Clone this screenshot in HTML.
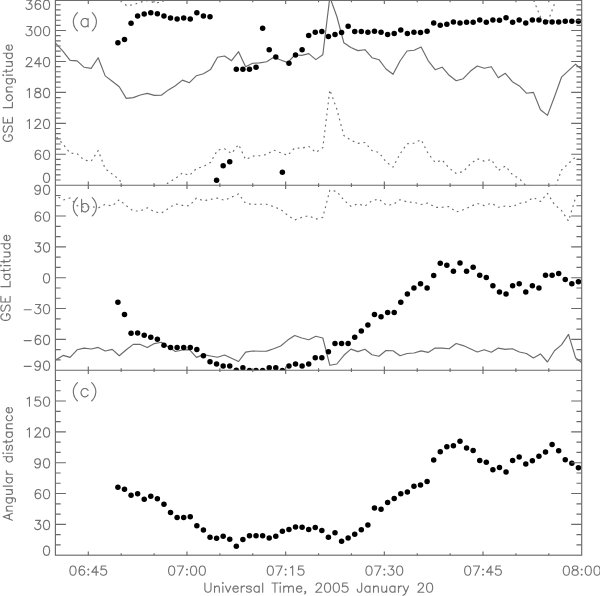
<!DOCTYPE html><html><head><meta charset="utf-8"><style>html,body{margin:0;padding:0;background:#fff;width:600px;height:596px;overflow:hidden}svg{display:block}</style></head><body>
<svg width="600" height="596" viewBox="0 0 600 596">
<rect width="600" height="596" fill="#fff"/>
<defs>
<clipPath id="ca"><rect x="55.40" y="-0.40" width="526.30" height="185.60"/></clipPath>
<clipPath id="cb"><rect x="55.40" y="185.20" width="526.30" height="185.00"/></clipPath>
<clipPath id="cc"><rect x="55.40" y="370.20" width="526.30" height="185.00"/></clipPath>
</defs>
<g clip-path="url(#ca)" fill="none" stroke="#6a6a6a" stroke-width="1.15" stroke-linejoin="round">
<path d="M49.04,36.10 L56.06,43.70 L63.08,51.30 L70.10,60.40 L77.12,60.90 L84.14,67.30 L91.16,68.40 L98.18,57.80 L105.20,75.90 L112.22,81.30 L119.24,86.70 L126.26,98.40 L133.28,97.60 L140.30,95.00 L147.32,93.40 L154.34,95.40 L161.36,95.30 L168.38,89.90 L175.40,85.70 L182.42,80.10 L189.44,82.70 L196.46,75.70 L203.48,73.70 L210.50,69.60 L217.52,57.30 L224.54,56.00 L231.56,60.70 L238.58,51.70 L245.60,66.70 L252.62,63.30 L259.64,62.90 L266.66,61.70 L273.68,57.30 L280.70,60.00 L287.72,62.60 L294.74,55.00 L301.76,55.40 L308.78,53.60 L315.80,59.60 L322.82,54.80 L329.84,-2.90 L336.86,16.50 L343.88,42.80 L350.90,47.50 L357.92,50.60 L364.94,49.70 L371.96,57.70 L378.98,59.70 L386.00,69.00 L393.02,74.30 L400.04,61.00 L407.06,51.00 L414.08,50.30 L421.10,46.90 L428.12,60.60 L435.14,69.70 L442.16,67.20 L449.18,75.30 L456.20,80.70 L463.22,78.70 L470.24,71.30 L477.26,66.00 L484.28,68.30 L491.30,66.70 L498.32,77.70 L505.34,73.30 L512.36,81.70 L519.38,85.90 L526.40,93.20 L533.42,92.40 L540.44,109.70 L547.46,115.40 L554.48,96.70 L561.50,77.20 L568.52,70.70 L575.54,64.20 L582.56,69.90"/>
<path d="M49.04,128.90 L56.06,136.50 L63.08,144.10 L70.10,153.20 L77.12,153.70 L84.14,160.10 L91.16,161.20 L98.18,150.60 L105.20,168.70 L112.22,174.10 L119.24,179.50 L126.26,191.20 L133.28,190.40 L140.30,187.80 L147.32,186.20 L154.34,188.20 L161.36,188.10 L168.38,182.70 L175.40,178.50 L182.42,172.90 L189.44,175.50 L196.46,168.50 L203.48,166.50 L210.50,162.40 L217.52,150.10 L224.54,148.80 L231.56,153.50 L238.58,144.50 L245.60,159.50 L252.62,156.10 L259.64,155.70 L266.66,154.50 L273.68,150.10 L280.70,152.80 L287.72,155.40 L294.74,147.80 L301.76,148.20 L308.78,146.40 L315.80,152.40 L322.82,147.60 L329.84,89.90 L336.86,109.30 L343.88,135.60 L350.90,140.30 L357.92,143.40 L364.94,142.50 L371.96,150.50 L378.98,152.50 L386.00,161.80 L393.02,167.10 L400.04,153.80 L407.06,143.80 L414.08,143.10 L421.10,139.70 L428.12,153.40 L435.14,162.50 L442.16,160.00 L449.18,168.10 L456.20,173.50 L463.22,171.50 L470.24,164.10 L477.26,158.80 L484.28,161.10 L491.30,159.50 L498.32,170.50 L505.34,166.10 L512.36,174.50 L519.38,178.70 L526.40,186.00 L533.42,185.20 L540.44,202.50 L547.46,208.20 L554.48,189.50 L561.50,170.00 L568.52,163.50 L575.54,157.00 L582.56,162.70" stroke-dasharray="1.8 3.8"/>
<path d="M49.04,-56.70 L56.06,-49.10 L63.08,-41.50 L70.10,-32.40 L77.12,-31.90 L84.14,-25.50 L91.16,-24.40 L98.18,-35.00 L105.20,-16.90 L112.22,-11.50 L119.24,-6.10 L126.26,5.60 L133.28,4.80 L140.30,2.20 L147.32,0.60 L154.34,2.60 L161.36,2.50 L168.38,-2.90 L175.40,-7.10 L182.42,-12.70 L189.44,-10.10 L196.46,-17.10 L203.48,-19.10 L210.50,-23.20 L217.52,-35.50 L224.54,-36.80 L231.56,-32.10 L238.58,-41.10 L245.60,-26.10 L252.62,-29.50 L259.64,-29.90 L266.66,-31.10 L273.68,-35.50 L280.70,-32.80 L287.72,-30.20 L294.74,-37.80 L301.76,-37.40 L308.78,-39.20 L315.80,-33.20 L322.82,-38.00 L329.84,-95.70 L336.86,-76.30 L343.88,-50.00 L350.90,-45.30 L357.92,-42.20 L364.94,-43.10 L371.96,-35.10 L378.98,-33.10 L386.00,-23.80 L393.02,-18.50 L400.04,-31.80 L407.06,-41.80 L414.08,-42.50 L421.10,-45.90 L428.12,-32.20 L435.14,-23.10 L442.16,-25.60 L449.18,-17.50 L456.20,-12.10 L463.22,-14.10 L470.24,-21.50 L477.26,-26.80 L484.28,-24.50 L491.30,-26.10 L498.32,-15.10 L505.34,-19.50 L512.36,-11.10 L519.38,-6.90 L526.40,0.40 L533.42,-0.40 L540.44,16.90 L547.46,22.60 L554.48,3.90 L561.50,-15.60 L568.52,-22.10 L575.54,-28.60 L582.56,-22.90" stroke-dasharray="1.8 3.8"/>
</g>
<g clip-path="url(#cb)" fill="none" stroke="#6a6a6a" stroke-width="1.15" stroke-linejoin="round">
<path d="M49.04,364.20 L56.06,359.80 L63.08,355.40 L70.10,357.40 L77.12,349.80 L84.14,348.10 L91.16,349.00 L98.18,347.40 L105.20,351.00 L112.22,349.40 L119.24,355.70 L126.26,349.70 L133.28,344.40 L140.30,344.40 L147.32,347.60 L154.34,343.60 L161.36,342.30 L168.38,347.00 L175.40,351.50 L182.42,350.00 L189.44,349.60 L196.46,357.40 L203.48,354.60 L210.50,356.00 L217.52,357.30 L224.54,355.00 L231.56,358.30 L238.58,361.50 L245.60,352.10 L252.62,351.00 L259.64,351.20 L266.66,351.10 L273.68,348.70 L280.70,346.00 L287.72,340.10 L294.74,335.50 L301.76,338.00 L308.78,339.70 L315.80,336.30 L322.82,338.00 L329.84,365.30 L336.86,364.00 L343.88,355.30 L350.90,349.10 L357.92,351.60 L364.94,349.30 L371.96,354.70 L378.98,356.30 L386.00,350.50 L393.02,350.70 L400.04,355.70 L407.06,353.50 L414.08,353.00 L421.10,350.90 L428.12,352.40 L435.14,348.10 L442.16,348.10 L449.18,348.80 L456.20,343.50 L463.22,345.60 L470.24,348.80 L477.26,352.00 L484.28,349.80 L491.30,352.20 L498.32,348.10 L505.34,349.40 L512.36,348.70 L519.38,352.00 L526.40,353.50 L533.42,358.00 L540.44,353.90 L547.46,362.00 L554.48,350.80 L561.50,344.90 L568.52,334.40 L575.54,357.70 L582.56,363.50"/>
<path d="M49.04,191.20 L56.06,195.60 L63.08,200.00 L70.10,198.00 L77.12,205.60 L84.14,207.30 L91.16,206.40 L98.18,208.00 L105.20,204.40 L112.22,206.00 L119.24,199.70 L126.26,205.70 L133.28,211.00 L140.30,211.00 L147.32,207.80 L154.34,211.80 L161.36,213.10 L168.38,208.40 L175.40,203.90 L182.42,205.40 L189.44,205.80 L196.46,198.00 L203.48,200.80 L210.50,199.40 L217.52,198.10 L224.54,200.40 L231.56,197.10 L238.58,193.90 L245.60,203.30 L252.62,204.40 L259.64,204.20 L266.66,204.30 L273.68,206.70 L280.70,209.40 L287.72,215.30 L294.74,219.90 L301.76,217.40 L308.78,215.70 L315.80,219.10 L322.82,217.40 L329.84,190.10 L336.86,191.40 L343.88,200.10 L350.90,206.30 L357.92,203.80 L364.94,206.10 L371.96,200.70 L378.98,199.10 L386.00,204.90 L393.02,204.70 L400.04,199.70 L407.06,201.90 L414.08,202.40 L421.10,204.50 L428.12,203.00 L435.14,207.30 L442.16,207.30 L449.18,206.60 L456.20,211.90 L463.22,209.80 L470.24,206.60 L477.26,203.40 L484.28,205.60 L491.30,203.20 L498.32,207.30 L505.34,206.00 L512.36,206.70 L519.38,203.40 L526.40,201.90 L533.42,197.40 L540.44,201.50 L547.46,193.40 L554.48,204.60 L561.50,210.50 L568.52,221.00 L575.54,197.70 L582.56,191.90" stroke-dasharray="1.8 3.8"/>
</g>
<g clip-path="url(#ca)" fill="#000">
<circle cx="117.90" cy="42.80" r="2.75"/>
<circle cx="124.48" cy="39.60" r="2.75"/>
<circle cx="131.06" cy="23.20" r="2.75"/>
<circle cx="137.63" cy="15.90" r="2.75"/>
<circle cx="144.21" cy="13.90" r="2.75"/>
<circle cx="150.79" cy="12.80" r="2.75"/>
<circle cx="157.37" cy="13.80" r="2.75"/>
<circle cx="163.95" cy="15.90" r="2.75"/>
<circle cx="170.53" cy="18.00" r="2.75"/>
<circle cx="177.11" cy="19.10" r="2.75"/>
<circle cx="183.69" cy="18.00" r="2.75"/>
<circle cx="190.26" cy="19.10" r="2.75"/>
<circle cx="196.84" cy="12.80" r="2.75"/>
<circle cx="203.42" cy="15.90" r="2.75"/>
<circle cx="210.00" cy="16.80" r="2.75"/>
<circle cx="216.58" cy="180.30" r="2.75"/>
<circle cx="223.16" cy="165.80" r="2.75"/>
<circle cx="229.74" cy="161.70" r="2.75"/>
<circle cx="236.32" cy="69.30" r="2.75"/>
<circle cx="242.89" cy="69.30" r="2.75"/>
<circle cx="249.47" cy="69.30" r="2.75"/>
<circle cx="256.05" cy="67.20" r="2.75"/>
<circle cx="262.63" cy="28.20" r="2.75"/>
<circle cx="269.21" cy="49.80" r="2.75"/>
<circle cx="275.79" cy="57.00" r="2.75"/>
<circle cx="282.37" cy="172.20" r="2.75"/>
<circle cx="288.95" cy="63.20" r="2.75"/>
<circle cx="295.52" cy="55.00" r="2.75"/>
<circle cx="302.10" cy="49.80" r="2.75"/>
<circle cx="308.68" cy="35.50" r="2.75"/>
<circle cx="315.26" cy="32.30" r="2.75"/>
<circle cx="321.84" cy="31.40" r="2.75"/>
<circle cx="328.42" cy="36.50" r="2.75"/>
<circle cx="335.00" cy="34.50" r="2.75"/>
<circle cx="341.58" cy="32.40" r="2.75"/>
<circle cx="348.15" cy="26.20" r="2.75"/>
<circle cx="354.73" cy="31.50" r="2.75"/>
<circle cx="361.31" cy="31.40" r="2.75"/>
<circle cx="367.89" cy="32.30" r="2.75"/>
<circle cx="374.47" cy="31.30" r="2.75"/>
<circle cx="381.05" cy="32.30" r="2.75"/>
<circle cx="387.63" cy="34.60" r="2.75"/>
<circle cx="394.21" cy="33.40" r="2.75"/>
<circle cx="400.78" cy="30.10" r="2.75"/>
<circle cx="407.36" cy="33.40" r="2.75"/>
<circle cx="413.94" cy="32.30" r="2.75"/>
<circle cx="420.52" cy="32.40" r="2.75"/>
<circle cx="427.10" cy="31.30" r="2.75"/>
<circle cx="433.68" cy="23.10" r="2.75"/>
<circle cx="440.26" cy="25.30" r="2.75"/>
<circle cx="446.84" cy="24.30" r="2.75"/>
<circle cx="453.41" cy="22.00" r="2.75"/>
<circle cx="459.99" cy="23.10" r="2.75"/>
<circle cx="466.57" cy="22.30" r="2.75"/>
<circle cx="473.15" cy="22.30" r="2.75"/>
<circle cx="479.73" cy="20.00" r="2.75"/>
<circle cx="486.31" cy="22.30" r="2.75"/>
<circle cx="492.89" cy="20.00" r="2.75"/>
<circle cx="499.47" cy="20.30" r="2.75"/>
<circle cx="506.04" cy="17.80" r="2.75"/>
<circle cx="512.62" cy="22.20" r="2.75"/>
<circle cx="519.20" cy="20.00" r="2.75"/>
<circle cx="525.78" cy="23.00" r="2.75"/>
<circle cx="532.36" cy="20.00" r="2.75"/>
<circle cx="538.94" cy="20.00" r="2.75"/>
<circle cx="545.52" cy="22.10" r="2.75"/>
<circle cx="552.10" cy="22.10" r="2.75"/>
<circle cx="558.67" cy="22.10" r="2.75"/>
<circle cx="565.25" cy="21.20" r="2.75"/>
<circle cx="571.83" cy="21.20" r="2.75"/>
<circle cx="578.41" cy="21.20" r="2.75"/>
</g>
<g clip-path="url(#cb)" fill="#000">
<circle cx="117.90" cy="302.30" r="2.75"/>
<circle cx="124.48" cy="314.60" r="2.75"/>
<circle cx="131.06" cy="333.20" r="2.75"/>
<circle cx="137.63" cy="333.00" r="2.75"/>
<circle cx="144.21" cy="335.20" r="2.75"/>
<circle cx="150.79" cy="337.20" r="2.75"/>
<circle cx="157.37" cy="339.30" r="2.75"/>
<circle cx="163.95" cy="345.30" r="2.75"/>
<circle cx="170.53" cy="347.50" r="2.75"/>
<circle cx="177.11" cy="347.50" r="2.75"/>
<circle cx="183.69" cy="347.50" r="2.75"/>
<circle cx="190.26" cy="347.50" r="2.75"/>
<circle cx="196.84" cy="349.40" r="2.75"/>
<circle cx="203.42" cy="355.70" r="2.75"/>
<circle cx="210.00" cy="361.80" r="2.75"/>
<circle cx="216.58" cy="363.90" r="2.75"/>
<circle cx="223.16" cy="366.00" r="2.75"/>
<circle cx="229.74" cy="366.00" r="2.75"/>
<circle cx="236.32" cy="370.30" r="2.75"/>
<circle cx="242.89" cy="367.70" r="2.75"/>
<circle cx="249.47" cy="370.50" r="2.75"/>
<circle cx="256.05" cy="370.50" r="2.75"/>
<circle cx="262.63" cy="370.50" r="2.75"/>
<circle cx="269.21" cy="367.70" r="2.75"/>
<circle cx="275.79" cy="367.70" r="2.75"/>
<circle cx="282.37" cy="370.50" r="2.75"/>
<circle cx="288.95" cy="366.00" r="2.75"/>
<circle cx="295.52" cy="364.00" r="2.75"/>
<circle cx="302.10" cy="366.00" r="2.75"/>
<circle cx="308.68" cy="364.00" r="2.75"/>
<circle cx="315.26" cy="357.70" r="2.75"/>
<circle cx="321.84" cy="357.70" r="2.75"/>
<circle cx="328.42" cy="351.70" r="2.75"/>
<circle cx="335.00" cy="343.50" r="2.75"/>
<circle cx="341.58" cy="343.50" r="2.75"/>
<circle cx="348.15" cy="343.50" r="2.75"/>
<circle cx="354.73" cy="337.30" r="2.75"/>
<circle cx="361.31" cy="331.10" r="2.75"/>
<circle cx="367.89" cy="325.00" r="2.75"/>
<circle cx="374.47" cy="314.40" r="2.75"/>
<circle cx="381.05" cy="316.70" r="2.75"/>
<circle cx="387.63" cy="312.40" r="2.75"/>
<circle cx="394.21" cy="312.40" r="2.75"/>
<circle cx="400.78" cy="302.30" r="2.75"/>
<circle cx="407.36" cy="294.00" r="2.75"/>
<circle cx="413.94" cy="288.00" r="2.75"/>
<circle cx="420.52" cy="283.80" r="2.75"/>
<circle cx="427.10" cy="288.00" r="2.75"/>
<circle cx="433.68" cy="275.50" r="2.75"/>
<circle cx="440.26" cy="263.20" r="2.75"/>
<circle cx="446.84" cy="265.30" r="2.75"/>
<circle cx="453.41" cy="271.30" r="2.75"/>
<circle cx="459.99" cy="263.10" r="2.75"/>
<circle cx="466.57" cy="271.30" r="2.75"/>
<circle cx="473.15" cy="267.30" r="2.75"/>
<circle cx="479.73" cy="275.30" r="2.75"/>
<circle cx="486.31" cy="277.60" r="2.75"/>
<circle cx="492.89" cy="285.70" r="2.75"/>
<circle cx="499.47" cy="292.00" r="2.75"/>
<circle cx="506.04" cy="294.00" r="2.75"/>
<circle cx="512.62" cy="285.70" r="2.75"/>
<circle cx="519.20" cy="283.70" r="2.75"/>
<circle cx="525.78" cy="292.00" r="2.75"/>
<circle cx="532.36" cy="285.70" r="2.75"/>
<circle cx="538.94" cy="288.00" r="2.75"/>
<circle cx="545.52" cy="275.30" r="2.75"/>
<circle cx="552.10" cy="275.30" r="2.75"/>
<circle cx="558.67" cy="273.60" r="2.75"/>
<circle cx="565.25" cy="279.60" r="2.75"/>
<circle cx="571.83" cy="283.70" r="2.75"/>
<circle cx="578.41" cy="281.70" r="2.75"/>
</g>
<g clip-path="url(#cc)" fill="#000">
<circle cx="117.90" cy="487.20" r="2.75"/>
<circle cx="124.48" cy="489.20" r="2.75"/>
<circle cx="131.06" cy="495.30" r="2.75"/>
<circle cx="137.63" cy="493.70" r="2.75"/>
<circle cx="144.21" cy="499.20" r="2.75"/>
<circle cx="150.79" cy="496.30" r="2.75"/>
<circle cx="157.37" cy="498.80" r="2.75"/>
<circle cx="163.95" cy="504.20" r="2.75"/>
<circle cx="170.53" cy="512.40" r="2.75"/>
<circle cx="177.11" cy="517.50" r="2.75"/>
<circle cx="183.69" cy="517.50" r="2.75"/>
<circle cx="190.26" cy="516.70" r="2.75"/>
<circle cx="196.84" cy="525.80" r="2.75"/>
<circle cx="203.42" cy="530.00" r="2.75"/>
<circle cx="210.00" cy="537.20" r="2.75"/>
<circle cx="216.58" cy="538.30" r="2.75"/>
<circle cx="223.16" cy="536.30" r="2.75"/>
<circle cx="229.74" cy="539.20" r="2.75"/>
<circle cx="236.32" cy="546.30" r="2.75"/>
<circle cx="242.89" cy="539.50" r="2.75"/>
<circle cx="249.47" cy="535.80" r="2.75"/>
<circle cx="256.05" cy="535.80" r="2.75"/>
<circle cx="262.63" cy="535.80" r="2.75"/>
<circle cx="269.21" cy="537.90" r="2.75"/>
<circle cx="275.79" cy="536.20" r="2.75"/>
<circle cx="282.37" cy="531.20" r="2.75"/>
<circle cx="288.95" cy="529.50" r="2.75"/>
<circle cx="295.52" cy="527.00" r="2.75"/>
<circle cx="302.10" cy="527.20" r="2.75"/>
<circle cx="308.68" cy="529.50" r="2.75"/>
<circle cx="315.26" cy="527.50" r="2.75"/>
<circle cx="321.84" cy="530.50" r="2.75"/>
<circle cx="328.42" cy="537.20" r="2.75"/>
<circle cx="335.00" cy="532.80" r="2.75"/>
<circle cx="341.58" cy="541.30" r="2.75"/>
<circle cx="348.15" cy="538.00" r="2.75"/>
<circle cx="354.73" cy="534.20" r="2.75"/>
<circle cx="361.31" cy="529.80" r="2.75"/>
<circle cx="367.89" cy="525.10" r="2.75"/>
<circle cx="374.47" cy="508.00" r="2.75"/>
<circle cx="381.05" cy="509.20" r="2.75"/>
<circle cx="387.63" cy="502.50" r="2.75"/>
<circle cx="394.21" cy="498.50" r="2.75"/>
<circle cx="400.78" cy="493.80" r="2.75"/>
<circle cx="407.36" cy="492.10" r="2.75"/>
<circle cx="413.94" cy="486.20" r="2.75"/>
<circle cx="420.52" cy="485.00" r="2.75"/>
<circle cx="427.10" cy="481.50" r="2.75"/>
<circle cx="433.68" cy="459.90" r="2.75"/>
<circle cx="440.26" cy="451.80" r="2.75"/>
<circle cx="446.84" cy="446.70" r="2.75"/>
<circle cx="453.41" cy="445.70" r="2.75"/>
<circle cx="459.99" cy="441.30" r="2.75"/>
<circle cx="466.57" cy="448.00" r="2.75"/>
<circle cx="473.15" cy="450.40" r="2.75"/>
<circle cx="479.73" cy="460.40" r="2.75"/>
<circle cx="486.31" cy="462.30" r="2.75"/>
<circle cx="492.89" cy="469.70" r="2.75"/>
<circle cx="499.47" cy="467.60" r="2.75"/>
<circle cx="506.04" cy="471.90" r="2.75"/>
<circle cx="512.62" cy="460.60" r="2.75"/>
<circle cx="519.20" cy="457.00" r="2.75"/>
<circle cx="525.78" cy="464.10" r="2.75"/>
<circle cx="532.36" cy="460.70" r="2.75"/>
<circle cx="538.94" cy="456.30" r="2.75"/>
<circle cx="545.52" cy="452.10" r="2.75"/>
<circle cx="552.10" cy="444.60" r="2.75"/>
<circle cx="558.67" cy="450.70" r="2.75"/>
<circle cx="565.25" cy="459.70" r="2.75"/>
<circle cx="571.83" cy="463.30" r="2.75"/>
<circle cx="578.41" cy="467.70" r="2.75"/>
</g>
<g fill="none" stroke="#6a6a6a" stroke-width="1.15">
<rect x="55.40" y="0.40" width="526.30" height="554.80"/>
<path d="M55.40,185.20 H581.70 M55.40,370.20 H581.70"/>
<path d="M88.29,185.20 v-3.71 M88.29,0.40 v3.71 M121.19,185.20 v-1.86 M121.19,0.40 v1.86 M154.08,185.20 v-1.86 M154.08,0.40 v1.86 M186.98,185.20 v-3.71 M186.98,0.40 v3.71 M219.87,185.20 v-1.86 M219.87,0.40 v1.86 M252.76,185.20 v-1.86 M252.76,0.40 v1.86 M285.66,185.20 v-3.71 M285.66,0.40 v3.71 M318.55,185.20 v-1.86 M318.55,0.40 v1.86 M351.44,185.20 v-1.86 M351.44,0.40 v1.86 M384.34,185.20 v-3.71 M384.34,0.40 v3.71 M417.23,185.20 v-1.86 M417.23,0.40 v1.86 M450.12,185.20 v-1.86 M450.12,0.40 v1.86 M483.02,185.20 v-3.71 M483.02,0.40 v3.71 M515.91,185.20 v-1.86 M515.91,0.40 v1.86 M548.81,185.20 v-1.86 M548.81,0.40 v1.86 M55.40,180.04 h5.25 M581.70,180.04 h-5.25 M55.40,174.89 h5.25 M581.70,174.89 h-5.25 M55.40,169.73 h5.25 M581.70,169.73 h-5.25 M55.40,164.58 h5.25 M581.70,164.58 h-5.25 M55.40,159.42 h5.25 M581.70,159.42 h-5.25 M55.40,154.27 h10.50 M581.70,154.27 h-10.50 M55.40,149.11 h5.25 M581.70,149.11 h-5.25 M55.40,143.96 h5.25 M581.70,143.96 h-5.25 M55.40,138.80 h5.25 M581.70,138.80 h-5.25 M55.40,133.64 h5.25 M581.70,133.64 h-5.25 M55.40,128.49 h5.25 M581.70,128.49 h-5.25 M55.40,123.33 h10.50 M581.70,123.33 h-10.50 M55.40,118.18 h5.25 M581.70,118.18 h-5.25 M55.40,113.02 h5.25 M581.70,113.02 h-5.25 M55.40,107.87 h5.25 M581.70,107.87 h-5.25 M55.40,102.71 h5.25 M581.70,102.71 h-5.25 M55.40,97.56 h5.25 M581.70,97.56 h-5.25 M55.40,92.40 h10.50 M581.70,92.40 h-10.50 M55.40,87.24 h5.25 M581.70,87.24 h-5.25 M55.40,82.09 h5.25 M581.70,82.09 h-5.25 M55.40,76.93 h5.25 M581.70,76.93 h-5.25 M55.40,71.78 h5.25 M581.70,71.78 h-5.25 M55.40,66.62 h5.25 M581.70,66.62 h-5.25 M55.40,61.47 h10.50 M581.70,61.47 h-10.50 M55.40,56.31 h5.25 M581.70,56.31 h-5.25 M55.40,51.16 h5.25 M581.70,51.16 h-5.25 M55.40,46.00 h5.25 M581.70,46.00 h-5.25 M55.40,40.84 h5.25 M581.70,40.84 h-5.25 M55.40,35.69 h5.25 M581.70,35.69 h-5.25 M55.40,30.53 h10.50 M581.70,30.53 h-10.50 M55.40,25.38 h5.25 M581.70,25.38 h-5.25 M55.40,20.22 h5.25 M581.70,20.22 h-5.25 M55.40,15.07 h5.25 M581.70,15.07 h-5.25 M55.40,9.91 h5.25 M581.70,9.91 h-5.25 M55.40,4.76 h5.25 M581.70,4.76 h-5.25 M88.29,370.20 v-3.70 M88.29,185.20 v3.70 M121.19,370.20 v-1.85 M121.19,185.20 v1.85 M154.08,370.20 v-1.85 M154.08,185.20 v1.85 M186.98,370.20 v-3.70 M186.98,185.20 v3.70 M219.87,370.20 v-1.85 M219.87,185.20 v1.85 M252.76,370.20 v-1.85 M252.76,185.20 v1.85 M285.66,370.20 v-3.70 M285.66,185.20 v3.70 M318.55,370.20 v-1.85 M318.55,185.20 v1.85 M351.44,370.20 v-1.85 M351.44,185.20 v1.85 M384.34,370.20 v-3.70 M384.34,185.20 v3.70 M417.23,370.20 v-1.85 M417.23,185.20 v1.85 M450.12,370.20 v-1.85 M450.12,185.20 v1.85 M483.02,370.20 v-3.70 M483.02,185.20 v3.70 M515.91,370.20 v-1.85 M515.91,185.20 v1.85 M548.81,370.20 v-1.85 M548.81,185.20 v1.85 M55.40,359.92 h5.25 M581.70,359.92 h-5.25 M55.40,349.64 h5.25 M581.70,349.64 h-5.25 M55.40,339.37 h10.50 M581.70,339.37 h-10.50 M55.40,329.09 h5.25 M581.70,329.09 h-5.25 M55.40,318.81 h5.25 M581.70,318.81 h-5.25 M55.40,308.53 h10.50 M581.70,308.53 h-10.50 M55.40,298.26 h5.25 M581.70,298.26 h-5.25 M55.40,287.98 h5.25 M581.70,287.98 h-5.25 M55.40,277.70 h10.50 M581.70,277.70 h-10.50 M55.40,267.42 h5.25 M581.70,267.42 h-5.25 M55.40,257.14 h5.25 M581.70,257.14 h-5.25 M55.40,246.87 h10.50 M581.70,246.87 h-10.50 M55.40,236.59 h5.25 M581.70,236.59 h-5.25 M55.40,226.31 h5.25 M581.70,226.31 h-5.25 M55.40,216.03 h10.50 M581.70,216.03 h-10.50 M55.40,205.76 h5.25 M581.70,205.76 h-5.25 M55.40,195.48 h5.25 M581.70,195.48 h-5.25 M88.29,555.20 v-3.70 M88.29,370.20 v3.70 M121.19,555.20 v-1.85 M121.19,370.20 v1.85 M154.08,555.20 v-1.85 M154.08,370.20 v1.85 M186.98,555.20 v-3.70 M186.98,370.20 v3.70 M219.87,555.20 v-1.85 M219.87,370.20 v1.85 M252.76,555.20 v-1.85 M252.76,370.20 v1.85 M285.66,555.20 v-3.70 M285.66,370.20 v3.70 M318.55,555.20 v-1.85 M318.55,370.20 v1.85 M351.44,555.20 v-1.85 M351.44,370.20 v1.85 M384.34,555.20 v-3.70 M384.34,370.20 v3.70 M417.23,555.20 v-1.85 M417.23,370.20 v1.85 M450.12,555.20 v-1.85 M450.12,370.20 v1.85 M483.02,555.20 v-3.70 M483.02,370.20 v3.70 M515.91,555.20 v-1.85 M515.91,370.20 v1.85 M548.81,555.20 v-1.85 M548.81,370.20 v1.85 M55.40,544.92 h5.25 M581.70,544.92 h-5.25 M55.40,534.64 h5.25 M581.70,534.64 h-5.25 M55.40,524.37 h10.50 M581.70,524.37 h-10.50 M55.40,514.09 h5.25 M581.70,514.09 h-5.25 M55.40,503.81 h5.25 M581.70,503.81 h-5.25 M55.40,493.53 h10.50 M581.70,493.53 h-10.50 M55.40,483.26 h5.25 M581.70,483.26 h-5.25 M55.40,472.98 h5.25 M581.70,472.98 h-5.25 M55.40,462.70 h10.50 M581.70,462.70 h-10.50 M55.40,452.42 h5.25 M581.70,452.42 h-5.25 M55.40,442.14 h5.25 M581.70,442.14 h-5.25 M55.40,431.87 h10.50 M581.70,431.87 h-10.50 M55.40,421.59 h5.25 M581.70,421.59 h-5.25 M55.40,411.31 h5.25 M581.70,411.31 h-5.25 M55.40,401.03 h10.50 M581.70,401.03 h-10.50 M55.40,390.76 h5.25 M581.70,390.76 h-5.25 M55.40,380.48 h5.25 M581.70,380.48 h-5.25"/>
</g>
<path fill="none" stroke="#727272" stroke-width="1.15" stroke-linecap="round" stroke-linejoin="round" d="M26.81,0.20 31.63,0.20 29.00,3.71 30.31,3.71 31.19,4.14 31.63,4.58 32.07,5.90 32.07,6.77 31.63,8.09 30.75,8.96 29.44,9.40 28.12,9.40 26.81,8.96 26.37,8.52 25.93,7.65M40.39,1.52 39.95,0.64 38.64,0.20 37.76,0.20 36.45,0.64 35.57,1.95 35.13,4.14 35.13,6.33 35.57,8.09 36.45,8.96 37.76,9.40 38.20,9.40 39.51,8.96 40.39,8.09 40.83,6.77 40.83,6.33 40.39,5.02 39.51,4.14 38.20,3.71 37.76,3.71 36.45,4.14 35.57,5.02 35.13,6.33M46.08,0.20 44.77,0.64 43.89,1.95 43.45,4.14 43.45,5.46 43.89,7.65 44.77,8.96 46.08,9.40 46.96,9.40 48.27,8.96 49.15,7.65 49.59,5.46 49.59,4.14 49.15,1.95 48.27,0.64 46.96,0.20 46.08,0.20M26.81,26.54 31.63,26.54 29.00,30.04 30.31,30.04 31.19,30.48 31.63,30.92 32.07,32.23 32.07,33.11 31.63,34.42 30.75,35.30 29.44,35.73 28.12,35.73 26.81,35.30 26.37,34.86 25.93,33.98M37.32,26.54 36.01,26.97 35.13,28.29 34.69,30.48 34.69,31.79 35.13,33.98 36.01,35.30 37.32,35.73 38.20,35.73 39.51,35.30 40.39,33.98 40.83,31.79 40.83,30.48 40.39,28.29 39.51,26.97 38.20,26.54 37.32,26.54M46.08,26.54 44.77,26.97 43.89,28.29 43.45,30.48 43.45,31.79 43.89,33.98 44.77,35.30 46.08,35.73 46.96,35.73 48.27,35.30 49.15,33.98 49.59,31.79 49.59,30.48 49.15,28.29 48.27,26.97 46.96,26.54 46.08,26.54M26.37,59.66 26.37,59.22 26.81,58.34 27.25,57.91 28.12,57.47 29.88,57.47 30.75,57.91 31.19,58.34 31.63,59.22 31.63,60.10 31.19,60.97 30.31,62.29 25.93,66.67 32.07,66.67M39.07,57.47 34.69,63.60 41.26,63.60M39.07,57.47 39.07,66.67M46.08,57.47 44.77,57.91 43.89,59.22 43.45,61.41 43.45,62.72 43.89,64.91 44.77,66.23 46.08,66.67 46.96,66.67 48.27,66.23 49.15,64.91 49.59,62.72 49.59,61.41 49.15,59.22 48.27,57.91 46.96,57.47 46.08,57.47M27.25,90.15 28.12,89.72 29.44,88.40 29.44,97.60M36.88,88.40 35.57,88.84 35.13,89.72 35.13,90.59 35.57,91.47 36.45,91.91 38.20,92.34 39.51,92.78 40.39,93.66 40.83,94.53 40.83,95.85 40.39,96.72 39.95,97.16 38.64,97.60 36.88,97.60 35.57,97.16 35.13,96.72 34.69,95.85 34.69,94.53 35.13,93.66 36.01,92.78 37.32,92.34 39.07,91.91 39.95,91.47 40.39,90.59 40.39,89.72 39.95,88.84 38.64,88.40 36.88,88.40M46.08,88.40 44.77,88.84 43.89,90.15 43.45,92.34 43.45,93.66 43.89,95.85 44.77,97.16 46.08,97.60 46.96,97.60 48.27,97.16 49.15,95.85 49.59,93.66 49.59,92.34 49.15,90.15 48.27,88.84 46.96,88.40 46.08,88.40M27.25,121.09 28.12,120.65 29.44,119.34 29.44,128.53M35.13,121.53 35.13,121.09 35.57,120.21 36.01,119.77 36.88,119.34 38.64,119.34 39.51,119.77 39.95,120.21 40.39,121.09 40.39,121.96 39.95,122.84 39.07,124.15 34.69,128.53 40.83,128.53M46.08,119.34 44.77,119.77 43.89,121.09 43.45,123.28 43.45,124.59 43.89,126.78 44.77,128.10 46.08,128.53 46.96,128.53 48.27,128.10 49.15,126.78 49.59,124.59 49.59,123.28 49.15,121.09 48.27,119.77 46.96,119.34 46.08,119.34M40.39,151.58 39.95,150.71 38.64,150.27 37.76,150.27 36.45,150.71 35.57,152.02 35.13,154.21 35.13,156.40 35.57,158.15 36.45,159.03 37.76,159.47 38.20,159.47 39.51,159.03 40.39,158.15 40.83,156.84 40.83,156.40 40.39,155.09 39.51,154.21 38.20,153.77 37.76,153.77 36.45,154.21 35.57,155.09 35.13,156.40M46.08,150.27 44.77,150.71 43.89,152.02 43.45,154.21 43.45,155.52 43.89,157.71 44.77,159.03 46.08,159.47 46.96,159.47 48.27,159.03 49.15,157.71 49.59,155.52 49.59,154.21 49.15,152.02 48.27,150.71 46.96,150.27 46.08,150.27M46.08,173.20 44.77,173.64 43.89,174.95 43.45,177.14 43.45,178.46 43.89,180.65 44.77,181.96 46.08,182.40 46.96,182.40 48.27,181.96 49.15,180.65 49.59,178.46 49.59,177.14 49.15,174.95 48.27,173.64 46.96,173.20 46.08,173.20M40.39,188.27 39.95,189.58 39.07,190.46 37.76,190.90 37.32,190.90 36.01,190.46 35.13,189.58 34.69,188.27 34.69,187.83 35.13,186.52 36.01,185.64 37.32,185.20 37.76,185.20 39.07,185.64 39.95,186.52 40.39,188.27 40.39,190.46 39.95,192.65 39.07,193.96 37.76,194.40 36.88,194.40 35.57,193.96 35.13,193.09M46.08,185.20 44.77,185.64 43.89,186.95 43.45,189.14 43.45,190.46 43.89,192.65 44.77,193.96 46.08,194.40 46.96,194.40 48.27,193.96 49.15,192.65 49.59,190.46 49.59,189.14 49.15,186.95 48.27,185.64 46.96,185.20 46.08,185.20M40.39,213.35 39.95,212.47 38.64,212.04 37.76,212.04 36.45,212.47 35.57,213.79 35.13,215.98 35.13,218.17 35.57,219.92 36.45,220.80 37.76,221.23 38.20,221.23 39.51,220.80 40.39,219.92 40.83,218.61 40.83,218.17 40.39,216.85 39.51,215.98 38.20,215.54 37.76,215.54 36.45,215.98 35.57,216.85 35.13,218.17M46.08,212.04 44.77,212.47 43.89,213.79 43.45,215.98 43.45,217.29 43.89,219.48 44.77,220.80 46.08,221.23 46.96,221.23 48.27,220.80 49.15,219.48 49.59,217.29 49.59,215.98 49.15,213.79 48.27,212.47 46.96,212.04 46.08,212.04M35.57,242.87 40.39,242.87 37.76,246.37 39.07,246.37 39.95,246.81 40.39,247.25 40.83,248.56 40.83,249.44 40.39,250.75 39.51,251.63 38.20,252.07 36.88,252.07 35.57,251.63 35.13,251.19 34.69,250.31M46.08,242.87 44.77,243.31 43.89,244.62 43.45,246.81 43.45,248.12 43.89,250.31 44.77,251.63 46.08,252.07 46.96,252.07 48.27,251.63 49.15,250.31 49.59,248.12 49.59,246.81 49.15,244.62 48.27,243.31 46.96,242.87 46.08,242.87M46.08,273.70 44.77,274.14 43.89,275.45 43.45,277.64 43.45,278.96 43.89,281.15 44.77,282.46 46.08,282.90 46.96,282.90 48.27,282.46 49.15,281.15 49.59,278.96 49.59,277.64 49.15,275.45 48.27,274.14 46.96,273.70 46.08,273.70M24.18,309.79 31.19,309.79M35.57,304.54 40.39,304.54 37.76,308.04 39.07,308.04 39.95,308.48 40.39,308.92 40.83,310.23 40.83,311.11 40.39,312.42 39.51,313.30 38.20,313.73 36.88,313.73 35.57,313.30 35.13,312.86 34.69,311.98M46.08,304.54 44.77,304.97 43.89,306.29 43.45,308.48 43.45,309.79 43.89,311.98 44.77,313.30 46.08,313.73 46.96,313.73 48.27,313.30 49.15,311.98 49.59,309.79 49.59,308.48 49.15,306.29 48.27,304.97 46.96,304.54 46.08,304.54M24.18,340.62 31.19,340.62M40.39,336.68 39.95,335.81 38.64,335.37 37.76,335.37 36.45,335.81 35.57,337.12 35.13,339.31 35.13,341.50 35.57,343.25 36.45,344.13 37.76,344.57 38.20,344.57 39.51,344.13 40.39,343.25 40.83,341.94 40.83,341.50 40.39,340.19 39.51,339.31 38.20,338.87 37.76,338.87 36.45,339.31 35.57,340.19 35.13,341.50M46.08,335.37 44.77,335.81 43.89,337.12 43.45,339.31 43.45,340.62 43.89,342.81 44.77,344.13 46.08,344.57 46.96,344.57 48.27,344.13 49.15,342.81 49.59,340.62 49.59,339.31 49.15,337.12 48.27,335.81 46.96,335.37 46.08,335.37M24.18,366.36 31.19,366.36M40.39,364.17 39.95,365.48 39.07,366.36 37.76,366.80 37.32,366.80 36.01,366.36 35.13,365.48 34.69,364.17 34.69,363.73 35.13,362.42 36.01,361.54 37.32,361.10 37.76,361.10 39.07,361.54 39.95,362.42 40.39,364.17 40.39,366.36 39.95,368.55 39.07,369.86 37.76,370.30 36.88,370.30 35.57,369.86 35.13,368.99M46.08,361.10 44.77,361.54 43.89,362.85 43.45,365.04 43.45,366.36 43.89,368.55 44.77,369.86 46.08,370.30 46.96,370.30 48.27,369.86 49.15,368.55 49.59,366.36 49.59,365.04 49.15,362.85 48.27,361.54 46.96,361.10 46.08,361.10M27.25,398.79 28.12,398.35 29.44,397.04 29.44,406.23M39.95,397.04 35.57,397.04 35.13,400.98 35.57,400.54 36.88,400.10 38.20,400.10 39.51,400.54 40.39,401.42 40.83,402.73 40.83,403.61 40.39,404.92 39.51,405.80 38.20,406.23 36.88,406.23 35.57,405.80 35.13,405.36 34.69,404.48M46.08,397.04 44.77,397.47 43.89,398.79 43.45,400.98 43.45,402.29 43.89,404.48 44.77,405.80 46.08,406.23 46.96,406.23 48.27,405.80 49.15,404.48 49.59,402.29 49.59,400.98 49.15,398.79 48.27,397.47 46.96,397.04 46.08,397.04M27.25,429.62 28.12,429.18 29.44,427.87 29.44,437.07M35.13,430.06 35.13,429.62 35.57,428.74 36.01,428.31 36.88,427.87 38.64,427.87 39.51,428.31 39.95,428.74 40.39,429.62 40.39,430.50 39.95,431.37 39.07,432.69 34.69,437.07 40.83,437.07M46.08,427.87 44.77,428.31 43.89,429.62 43.45,431.81 43.45,433.12 43.89,435.31 44.77,436.63 46.08,437.07 46.96,437.07 48.27,436.63 49.15,435.31 49.59,433.12 49.59,431.81 49.15,429.62 48.27,428.31 46.96,427.87 46.08,427.87M40.39,461.77 39.95,463.08 39.07,463.96 37.76,464.40 37.32,464.40 36.01,463.96 35.13,463.08 34.69,461.77 34.69,461.33 35.13,460.02 36.01,459.14 37.32,458.70 37.76,458.70 39.07,459.14 39.95,460.02 40.39,461.77 40.39,463.96 39.95,466.15 39.07,467.46 37.76,467.90 36.88,467.90 35.57,467.46 35.13,466.59M46.08,458.70 44.77,459.14 43.89,460.45 43.45,462.64 43.45,463.96 43.89,466.15 44.77,467.46 46.08,467.90 46.96,467.90 48.27,467.46 49.15,466.15 49.59,463.96 49.59,462.64 49.15,460.45 48.27,459.14 46.96,458.70 46.08,458.70M40.39,490.85 39.95,489.97 38.64,489.54 37.76,489.54 36.45,489.97 35.57,491.29 35.13,493.48 35.13,495.67 35.57,497.42 36.45,498.30 37.76,498.73 38.20,498.73 39.51,498.30 40.39,497.42 40.83,496.11 40.83,495.67 40.39,494.35 39.51,493.48 38.20,493.04 37.76,493.04 36.45,493.48 35.57,494.35 35.13,495.67M46.08,489.54 44.77,489.97 43.89,491.29 43.45,493.48 43.45,494.79 43.89,496.98 44.77,498.30 46.08,498.73 46.96,498.73 48.27,498.30 49.15,496.98 49.59,494.79 49.59,493.48 49.15,491.29 48.27,489.97 46.96,489.54 46.08,489.54M35.57,520.37 40.39,520.37 37.76,523.87 39.07,523.87 39.95,524.31 40.39,524.75 40.83,526.06 40.83,526.94 40.39,528.25 39.51,529.13 38.20,529.57 36.88,529.57 35.57,529.13 35.13,528.69 34.69,527.81M46.08,520.37 44.77,520.81 43.89,522.12 43.45,524.31 43.45,525.62 43.89,527.81 44.77,529.13 46.08,529.57 46.96,529.57 48.27,529.13 49.15,527.81 49.59,525.62 49.59,524.31 49.15,522.12 48.27,520.81 46.96,520.37 46.08,520.37M46.08,546.10 44.77,546.54 43.89,547.85 43.45,550.04 43.45,551.36 43.89,553.55 44.77,554.86 46.08,555.30 46.96,555.30 48.27,554.86 49.15,553.55 49.59,551.36 49.59,550.04 49.15,547.85 48.27,546.54 46.96,546.10 46.08,546.10M72.53,566.00 71.21,566.44 70.34,567.75 69.90,569.94 69.90,571.26 70.34,573.45 71.21,574.76 72.53,575.20 73.40,575.20 74.72,574.76 75.59,573.45 76.03,571.26 76.03,569.94 75.59,567.75 74.72,566.44 73.40,566.00 72.53,566.00M84.35,567.32 83.91,566.44 82.60,566.00 81.72,566.00 80.41,566.44 79.53,567.75 79.10,569.94 79.10,572.13 79.53,573.89 80.41,574.76 81.72,575.20 82.16,575.20 83.48,574.76 84.35,573.89 84.79,572.57 84.79,572.13 84.35,570.82 83.48,569.94 82.16,569.51 81.72,569.51 80.41,569.94 79.53,570.82 79.10,572.13M88.29,569.07 87.86,569.51 88.29,569.94 88.73,569.51 88.29,569.07M88.29,574.32 87.86,574.76 88.29,575.20 88.73,574.76 88.29,574.32M96.18,566.00 91.80,572.13 98.37,572.13M96.18,566.00 96.18,575.20M105.81,566.00 101.43,566.00 101.00,569.94 101.43,569.51 102.75,569.07 104.06,569.07 105.38,569.51 106.25,570.38 106.69,571.70 106.69,572.57 106.25,573.89 105.38,574.76 104.06,575.20 102.75,575.20 101.43,574.76 101.00,574.32 100.56,573.45M171.21,566.00 169.89,566.44 169.02,567.75 168.58,569.94 168.58,571.26 169.02,573.45 169.89,574.76 171.21,575.20 172.08,575.20 173.40,574.76 174.27,573.45 174.71,571.26 174.71,569.94 174.27,567.75 173.40,566.44 172.08,566.00 171.21,566.00M183.47,566.00 179.09,575.20M177.34,566.00 183.47,566.00M186.98,569.07 186.54,569.51 186.98,569.94 187.41,569.51 186.98,569.07M186.98,574.32 186.54,574.76 186.98,575.20 187.41,574.76 186.98,574.32M193.11,566.00 191.79,566.44 190.92,567.75 190.48,569.94 190.48,571.26 190.92,573.45 191.79,574.76 193.11,575.20 193.98,575.20 195.30,574.76 196.17,573.45 196.61,571.26 196.61,569.94 196.17,567.75 195.30,566.44 193.98,566.00 193.11,566.00M201.87,566.00 200.55,566.44 199.68,567.75 199.24,569.94 199.24,571.26 199.68,573.45 200.55,574.76 201.87,575.20 202.74,575.20 204.06,574.76 204.93,573.45 205.37,571.26 205.37,569.94 204.93,567.75 204.06,566.44 202.74,566.00 201.87,566.00M269.89,566.00 268.57,566.44 267.70,567.75 267.26,569.94 267.26,571.26 267.70,573.45 268.57,574.76 269.89,575.20 270.76,575.20 272.08,574.76 272.95,573.45 273.39,571.26 273.39,569.94 272.95,567.75 272.08,566.44 270.76,566.00 269.89,566.00M282.15,566.00 277.77,575.20M276.02,566.00 282.15,566.00M285.66,569.07 285.22,569.51 285.66,569.94 286.09,569.51 285.66,569.07M285.66,574.32 285.22,574.76 285.66,575.20 286.09,574.76 285.66,574.32M290.47,567.75 291.35,567.32 292.66,566.00 292.66,575.20M303.18,566.00 298.80,566.00 298.36,569.94 298.80,569.51 300.11,569.07 301.42,569.07 302.74,569.51 303.61,570.38 304.05,571.70 304.05,572.57 303.61,573.89 302.74,574.76 301.42,575.20 300.11,575.20 298.80,574.76 298.36,574.32 297.92,573.45M368.57,566.00 367.26,566.44 366.38,567.75 365.94,569.94 365.94,571.26 366.38,573.45 367.26,574.76 368.57,575.20 369.45,575.20 370.76,574.76 371.64,573.45 372.07,571.26 372.07,569.94 371.64,567.75 370.76,566.44 369.45,566.00 368.57,566.00M380.83,566.00 376.45,575.20M374.70,566.00 380.83,566.00M384.34,569.07 383.90,569.51 384.34,569.94 384.78,569.51 384.34,569.07M384.34,574.32 383.90,574.76 384.34,575.20 384.78,574.76 384.34,574.32M388.72,566.00 393.54,566.00 390.91,569.51 392.22,569.51 393.10,569.94 393.54,570.38 393.97,571.70 393.97,572.57 393.54,573.89 392.66,574.76 391.35,575.20 390.03,575.20 388.72,574.76 388.28,574.32 387.84,573.45M399.23,566.00 397.92,566.44 397.04,567.75 396.60,569.94 396.60,571.26 397.04,573.45 397.92,574.76 399.23,575.20 400.11,575.20 401.42,574.76 402.30,573.45 402.73,571.26 402.73,569.94 402.30,567.75 401.42,566.44 400.11,566.00 399.23,566.00M467.25,566.00 465.94,566.44 465.06,567.75 464.62,569.94 464.62,571.26 465.06,573.45 465.94,574.76 467.25,575.20 468.13,575.20 469.44,574.76 470.32,573.45 470.75,571.26 470.75,569.94 470.32,567.75 469.44,566.44 468.13,566.00 467.25,566.00M479.51,566.00 475.13,575.20M473.38,566.00 479.51,566.00M483.02,569.07 482.58,569.51 483.02,569.94 483.46,569.51 483.02,569.07M483.02,574.32 482.58,574.76 483.02,575.20 483.46,574.76 483.02,574.32M490.90,566.00 486.52,572.13 493.09,572.13M490.90,566.00 490.90,575.20M500.54,566.00 496.16,566.00 495.72,569.94 496.16,569.51 497.47,569.07 498.79,569.07 500.10,569.51 500.98,570.38 501.41,571.70 501.41,572.57 500.98,573.89 500.10,574.76 498.79,575.20 497.47,575.20 496.16,574.76 495.72,574.32 495.28,573.45M565.93,566.00 564.62,566.44 563.74,567.75 563.30,569.94 563.30,571.26 563.74,573.45 564.62,574.76 565.93,575.20 566.81,575.20 568.12,574.76 569.00,573.45 569.44,571.26 569.44,569.94 569.00,567.75 568.12,566.44 566.81,566.00 565.93,566.00M574.25,566.00 572.94,566.44 572.50,567.32 572.50,568.19 572.94,569.07 573.82,569.51 575.57,569.94 576.88,570.38 577.76,571.26 578.20,572.13 578.20,573.45 577.76,574.32 577.32,574.76 576.01,575.20 574.25,575.20 572.94,574.76 572.50,574.32 572.06,573.45 572.06,572.13 572.50,571.26 573.38,570.38 574.69,569.94 576.44,569.51 577.32,569.07 577.76,568.19 577.76,567.32 577.32,566.44 576.01,566.00 574.25,566.00M581.70,569.07 581.26,569.51 581.70,569.94 582.14,569.51 581.70,569.07M581.70,574.32 581.26,574.76 581.70,575.20 582.14,574.76 581.70,574.32M587.83,566.00 586.52,566.44 585.64,567.75 585.20,569.94 585.20,571.26 585.64,573.45 586.52,574.76 587.83,575.20 588.71,575.20 590.02,574.76 590.90,573.45 591.34,571.26 591.34,569.94 590.90,567.75 590.02,566.44 588.71,566.00 587.83,566.00M596.59,566.00 595.28,566.44 594.40,567.75 593.96,569.94 593.96,571.26 594.40,573.45 595.28,574.76 596.59,575.20 597.47,575.20 598.78,574.76 599.66,573.45 600.10,571.26 600.10,569.94 599.66,567.75 598.78,566.44 597.47,566.00 596.59,566.00M204.89,583.00 204.89,589.57 205.33,590.89 206.20,591.76 207.52,592.20 208.39,592.20 209.71,591.76 210.58,590.89 211.02,589.57 211.02,583.00M214.53,586.07 214.53,592.20M214.53,587.82 215.84,586.51 216.72,586.07 218.03,586.07 218.91,586.51 219.34,587.82 219.34,592.20M222.41,583.00 222.85,583.44 223.28,583.00 222.85,582.56 222.41,583.00M222.85,586.07 222.85,592.20M225.47,586.07 228.10,592.20M230.73,586.07 228.10,592.20M232.92,588.70 238.18,588.70 238.18,587.82 237.74,586.94 237.30,586.51 236.43,586.07 235.11,586.07 234.24,586.51 233.36,587.38 232.92,588.70 232.92,589.57 233.36,590.89 234.24,591.76 235.11,592.20 236.43,592.20 237.30,591.76 238.18,590.89M241.24,586.07 241.24,592.20M241.24,588.70 241.68,587.38 242.56,586.51 243.43,586.07 244.75,586.07M251.32,587.38 250.88,586.51 249.56,586.07 248.25,586.07 246.94,586.51 246.50,587.38 246.94,588.26 247.81,588.70 250.00,589.13 250.88,589.57 251.32,590.45 251.32,590.89 250.88,591.76 249.56,592.20 248.25,592.20 246.94,591.76 246.50,590.89M259.20,586.07 259.20,592.20M259.20,587.38 258.32,586.51 257.45,586.07 256.13,586.07 255.26,586.51 254.38,587.38 253.94,588.70 253.94,589.57 254.38,590.89 255.26,591.76 256.13,592.20 257.45,592.20 258.32,591.76 259.20,590.89M262.70,583.00 262.70,592.20M274.97,583.00 274.97,592.20M271.90,583.00 278.03,583.00M279.79,583.00 280.23,583.44 280.66,583.00 280.23,582.56 279.79,583.00M280.23,586.07 280.23,592.20M283.73,586.07 283.73,592.20M283.73,587.82 285.04,586.51 285.92,586.07 287.23,586.07 288.11,586.51 288.55,587.82 288.55,592.20M288.55,587.82 289.86,586.51 290.74,586.07 292.05,586.07 292.93,586.51 293.37,587.82 293.37,592.20M296.43,588.70 301.69,588.70 301.69,587.82 301.25,586.94 300.81,586.51 299.94,586.07 298.62,586.07 297.75,586.51 296.87,587.38 296.43,588.70 296.43,589.57 296.87,590.89 297.75,591.76 298.62,592.20 299.94,592.20 300.81,591.76 301.69,590.89M305.63,591.76 305.19,592.20 304.75,591.76 305.19,591.32 305.63,591.76 305.63,592.64 305.19,593.51 304.75,593.95M316.14,585.19 316.14,584.75 316.58,583.88 317.02,583.44 317.89,583.00 319.64,583.00 320.52,583.44 320.96,583.88 321.40,584.75 321.40,585.63 320.96,586.51 320.08,587.82 315.70,592.20 321.83,592.20M327.09,583.00 325.78,583.44 324.90,584.75 324.46,586.94 324.46,588.26 324.90,590.45 325.78,591.76 327.09,592.20 327.97,592.20 329.28,591.76 330.16,590.45 330.60,588.26 330.60,586.94 330.16,584.75 329.28,583.44 327.97,583.00 327.09,583.00M335.85,583.00 334.54,583.44 333.66,584.75 333.22,586.94 333.22,588.26 333.66,590.45 334.54,591.76 335.85,592.20 336.73,592.20 338.04,591.76 338.92,590.45 339.36,588.26 339.36,586.94 338.92,584.75 338.04,583.44 336.73,583.00 335.85,583.00M347.24,583.00 342.86,583.00 342.42,586.94 342.86,586.51 344.17,586.07 345.49,586.07 346.80,586.51 347.68,587.38 348.12,588.70 348.12,589.57 347.68,590.89 346.80,591.76 345.49,592.20 344.17,592.20 342.86,591.76 342.42,591.32 341.98,590.45M361.69,583.00 361.69,590.01 361.25,591.32 360.82,591.76 359.94,592.20 359.06,592.20 358.19,591.76 357.75,591.32 357.31,590.01 357.31,589.13M370.01,586.07 370.01,592.20M370.01,587.38 369.14,586.51 368.26,586.07 366.95,586.07 366.07,586.51 365.20,587.38 364.76,588.70 364.76,589.57 365.20,590.89 366.07,591.76 366.95,592.20 368.26,592.20 369.14,591.76 370.01,590.89M373.52,586.07 373.52,592.20M373.52,587.82 374.83,586.51 375.71,586.07 377.02,586.07 377.90,586.51 378.34,587.82 378.34,592.20M381.84,586.07 381.84,590.45 382.28,591.76 383.15,592.20 384.47,592.20 385.35,591.76 386.66,590.45M386.66,586.07 386.66,592.20M394.98,586.07 394.98,592.20M394.98,587.38 394.11,586.51 393.23,586.07 391.91,586.07 391.04,586.51 390.16,587.38 389.73,588.70 389.73,589.57 390.16,590.89 391.04,591.76 391.91,592.20 393.23,592.20 394.11,591.76 394.98,590.89M398.49,586.07 398.49,592.20M398.49,588.70 398.92,587.38 399.80,586.51 400.68,586.07 401.99,586.07M403.30,586.07 405.93,592.20M408.56,586.07 405.93,592.20 405.06,593.95 404.18,594.83 403.30,595.27 402.87,595.27M418.19,585.19 418.19,584.75 418.63,583.88 419.07,583.44 419.95,583.00 421.70,583.00 422.57,583.44 423.01,583.88 423.45,584.75 423.45,585.63 423.01,586.51 422.14,587.82 417.76,592.20 423.89,592.20M429.14,583.00 427.83,583.44 426.96,584.75 426.52,586.94 426.52,588.26 426.96,590.45 427.83,591.76 429.14,592.20 430.02,592.20 431.34,591.76 432.21,590.45 432.65,588.26 432.65,586.94 432.21,584.75 431.34,583.44 430.02,583.00 429.14,583.00M5.39,134.76 4.52,135.20 3.64,136.07 3.20,136.95 3.20,138.70 3.64,139.58 4.52,140.45 5.39,140.89 6.71,141.33 8.90,141.33 10.21,140.89 11.09,140.45 11.96,139.58 12.40,138.70 12.40,136.95 11.96,136.07 11.09,135.20 10.21,134.76 8.90,134.76M8.90,136.95 8.90,134.76M4.52,126.00 3.64,126.88 3.20,128.19 3.20,129.94 3.64,131.26 4.52,132.13 5.39,132.13 6.27,131.69 6.71,131.26 7.14,130.38 8.02,127.75 8.46,126.88 8.90,126.44 9.77,126.00 11.09,126.00 11.96,126.88 12.40,128.19 12.40,129.94 11.96,131.26 11.09,132.13M3.20,122.93 12.40,122.93M3.20,122.93 3.20,117.24M7.58,122.93 7.58,119.43M12.40,122.93 12.40,117.24M3.20,107.60 12.40,107.60M12.40,107.60 12.40,102.35M6.27,98.41 6.71,99.28 7.58,100.16 8.90,100.60 9.77,100.60 11.09,100.16 11.96,99.28 12.40,98.41 12.40,97.09 11.96,96.22 11.09,95.34 9.77,94.90 8.90,94.90 7.58,95.34 6.71,96.22 6.27,97.09 6.27,98.41M6.27,91.84 12.40,91.84M8.02,91.84 6.71,90.52 6.27,89.65 6.27,88.33 6.71,87.46 8.02,87.02 12.40,87.02M6.27,78.70 13.28,78.70 14.59,79.13 15.03,79.57 15.47,80.45 15.47,81.76 15.03,82.64M7.58,78.70 6.71,79.57 6.27,80.45 6.27,81.76 6.71,82.64 7.58,83.51 8.90,83.95 9.77,83.95 11.09,83.51 11.96,82.64 12.40,81.76 12.40,80.45 11.96,79.57 11.09,78.70M3.20,75.63 3.64,75.19 3.20,74.75 2.76,75.19 3.20,75.63M6.27,75.19 12.40,75.19M3.20,71.25 10.65,71.25 11.96,70.81 12.40,69.94 12.40,69.06M6.27,72.56 6.27,69.50M6.27,66.43 10.65,66.43 11.96,65.99 12.40,65.12 12.40,63.80 11.96,62.93 10.65,61.61M6.27,61.61 12.40,61.61M3.20,53.29 12.40,53.29M7.58,53.29 6.71,54.17 6.27,55.04 6.27,56.36 6.71,57.23 7.58,58.11 8.90,58.55 9.77,58.55 11.09,58.11 11.96,57.23 12.40,56.36 12.40,55.04 11.96,54.17 11.09,53.29M8.90,50.23 8.90,44.97 8.02,44.97 7.14,45.41 6.71,45.85 6.27,46.72 6.27,48.04 6.71,48.91 7.58,49.79 8.90,50.23 9.77,50.23 11.09,49.79 11.96,48.91 12.40,48.04 12.40,46.72 11.96,45.85 11.09,44.97M3.09,313.82 2.22,314.25 1.34,315.13 0.90,316.01 0.90,317.76 1.34,318.63 2.22,319.51 3.09,319.95 4.41,320.39 6.60,320.39 7.91,319.95 8.79,319.51 9.66,318.63 10.10,317.76 10.10,316.01 9.66,315.13 8.79,314.25 7.91,313.82 6.60,313.82M6.60,316.01 6.60,313.82M2.22,305.06 1.34,305.93 0.90,307.25 0.90,309.00 1.34,310.31 2.22,311.19 3.09,311.19 3.97,310.75 4.41,310.31 4.84,309.44 5.72,306.81 6.16,305.93 6.60,305.49 7.47,305.06 8.79,305.06 9.66,305.93 10.10,307.25 10.10,309.00 9.66,310.31 8.79,311.19M0.90,301.99 10.10,301.99M0.90,301.99 0.90,296.30M5.28,301.99 5.28,298.49M10.10,301.99 10.10,296.30M0.90,286.66 10.10,286.66M10.10,286.66 10.10,281.40M3.97,274.40 10.10,274.40M5.28,274.40 4.41,275.27 3.97,276.15 3.97,277.46 4.41,278.34 5.28,279.21 6.60,279.65 7.47,279.65 8.79,279.21 9.66,278.34 10.10,277.46 10.10,276.15 9.66,275.27 8.79,274.40M0.90,270.45 8.35,270.45 9.66,270.02 10.10,269.14 10.10,268.26M3.97,271.77 3.97,268.70M0.90,266.07 1.34,265.64 0.90,265.20 0.46,265.64 0.90,266.07M3.97,265.64 10.10,265.64M0.90,261.69 8.35,261.69 9.66,261.26 10.10,260.38 10.10,259.50M3.97,263.01 3.97,259.94M3.97,256.88 8.35,256.88 9.66,256.44 10.10,255.56 10.10,254.25 9.66,253.37 8.35,252.06M3.97,252.06 10.10,252.06M0.90,243.74 10.10,243.74M5.28,243.74 4.41,244.61 3.97,245.49 3.97,246.80 4.41,247.68 5.28,248.55 6.60,248.99 7.47,248.99 8.79,248.55 9.66,247.68 10.10,246.80 10.10,245.49 9.66,244.61 8.79,243.74M6.60,240.67 6.60,235.41 5.72,235.41 4.84,235.85 4.41,236.29 3.97,237.17 3.97,238.48 4.41,239.36 5.28,240.23 6.60,240.67 7.47,240.67 8.79,240.23 9.66,239.36 10.10,238.48 10.10,237.17 9.66,236.29 8.79,235.41M3.20,516.72 12.40,520.22M3.20,516.72 12.40,513.21M9.33,518.91 9.33,514.53M6.27,511.02 12.40,511.02M8.02,511.02 6.71,509.71 6.27,508.83 6.27,507.52 6.71,506.64 8.02,506.20 12.40,506.20M6.27,497.88 13.28,497.88 14.59,498.32 15.03,498.76 15.47,499.63 15.47,500.95 15.03,501.82M7.58,497.88 6.71,498.76 6.27,499.63 6.27,500.95 6.71,501.82 7.58,502.70 8.90,503.14 9.77,503.14 11.09,502.70 11.96,501.82 12.40,500.95 12.40,499.63 11.96,498.76 11.09,497.88M6.27,494.38 10.65,494.38 11.96,493.94 12.40,493.06 12.40,491.75 11.96,490.88 10.65,489.56M6.27,489.56 12.40,489.56M3.20,486.06 12.40,486.06M6.27,477.74 12.40,477.74M7.58,477.74 6.71,478.61 6.27,479.49 6.27,480.80 6.71,481.68 7.58,482.55 8.90,482.99 9.77,482.99 11.09,482.55 11.96,481.68 12.40,480.80 12.40,479.49 11.96,478.61 11.09,477.74M6.27,474.23 12.40,474.23M8.90,474.23 7.58,473.79 6.71,472.92 6.27,472.04 6.27,470.73M3.20,456.71 12.40,456.71M7.58,456.71 6.71,457.59 6.27,458.46 6.27,459.78 6.71,460.65 7.58,461.53 8.90,461.97 9.77,461.97 11.09,461.53 11.96,460.65 12.40,459.78 12.40,458.46 11.96,457.59 11.09,456.71M3.20,453.64 3.64,453.21 3.20,452.77 2.76,453.21 3.20,453.64M6.27,453.21 12.40,453.21M7.58,445.32 6.71,445.76 6.27,447.07 6.27,448.39 6.71,449.70 7.58,450.14 8.46,449.70 8.90,448.83 9.33,446.64 9.77,445.76 10.65,445.32 11.09,445.32 11.96,445.76 12.40,447.07 12.40,448.39 11.96,449.70 11.09,450.14M3.20,441.82 10.65,441.82 11.96,441.38 12.40,440.50 12.40,439.63M6.27,443.13 6.27,440.07M6.27,432.18 12.40,432.18M7.58,432.18 6.71,433.06 6.27,433.94 6.27,435.25 6.71,436.12 7.58,437.00 8.90,437.44 9.77,437.44 11.09,437.00 11.96,436.12 12.40,435.25 12.40,433.94 11.96,433.06 11.09,432.18M6.27,428.68 12.40,428.68M8.02,428.68 6.71,427.37 6.27,426.49 6.27,425.18 6.71,424.30 8.02,423.86 12.40,423.86M7.58,415.54 6.71,416.41 6.27,417.29 6.27,418.61 6.71,419.48 7.58,420.36 8.90,420.79 9.77,420.79 11.09,420.36 11.96,419.48 12.40,418.61 12.40,417.29 11.96,416.41 11.09,415.54M8.90,412.91 8.90,407.65 8.02,407.65 7.14,408.09 6.71,408.53 6.27,409.41 6.27,410.72 6.71,411.60 7.58,412.47 8.90,412.91 9.77,412.91 11.09,412.47 11.96,411.60 12.40,410.72 12.40,409.41 11.96,408.53 11.09,407.65M77.49,12.64 76.31,13.82 75.13,15.59 73.95,17.95 73.36,20.31 73.36,22.67 73.95,25.62 75.13,27.98 76.31,29.75 77.49,30.93M88.11,18.54 88.11,26.80M88.11,20.31 86.93,19.13 85.75,18.54 83.98,18.54 82.80,19.13 81.62,20.31 81.03,22.08 81.03,23.26 81.62,25.03 82.80,26.21 83.98,26.80 85.75,26.80 86.93,26.21 88.11,25.03M92.24,12.64 93.42,13.82 94.60,15.59 95.78,17.95 96.37,20.31 96.37,22.67 95.78,25.62 94.60,27.98 93.42,29.75 92.24,30.93M77.49,197.64 76.31,198.82 75.13,200.59 73.95,202.95 73.36,205.31 73.36,207.67 73.95,210.62 75.13,212.98 76.31,214.75 77.49,215.93M81.62,199.41 81.62,211.80M81.62,205.31 82.80,204.13 83.98,203.54 85.75,203.54 86.93,204.13 88.11,205.31 88.70,207.08 88.70,208.26 88.11,210.03 86.93,211.21 85.75,211.80 83.98,211.80 82.80,211.21 81.62,210.03M92.24,197.64 93.42,198.82 94.60,200.59 95.78,202.95 96.37,205.31 96.37,207.67 95.78,210.62 94.60,212.98 93.42,214.75 92.24,215.93M77.49,382.64 76.31,383.82 75.13,385.59 73.95,387.95 73.36,390.31 73.36,392.67 73.95,395.62 75.13,397.98 76.31,399.75 77.49,400.93M88.11,390.31 86.93,389.13 85.75,388.54 83.98,388.54 82.80,389.13 81.62,390.31 81.03,392.08 81.03,393.26 81.62,395.03 82.80,396.21 83.98,396.80 85.75,396.80 86.93,396.21 88.11,395.03M91.65,382.64 92.83,383.82 94.01,385.59 95.19,387.95 95.78,390.31 95.78,392.67 95.19,395.62 94.01,397.98 92.83,399.75 91.65,400.93"/>
</svg></body></html>
